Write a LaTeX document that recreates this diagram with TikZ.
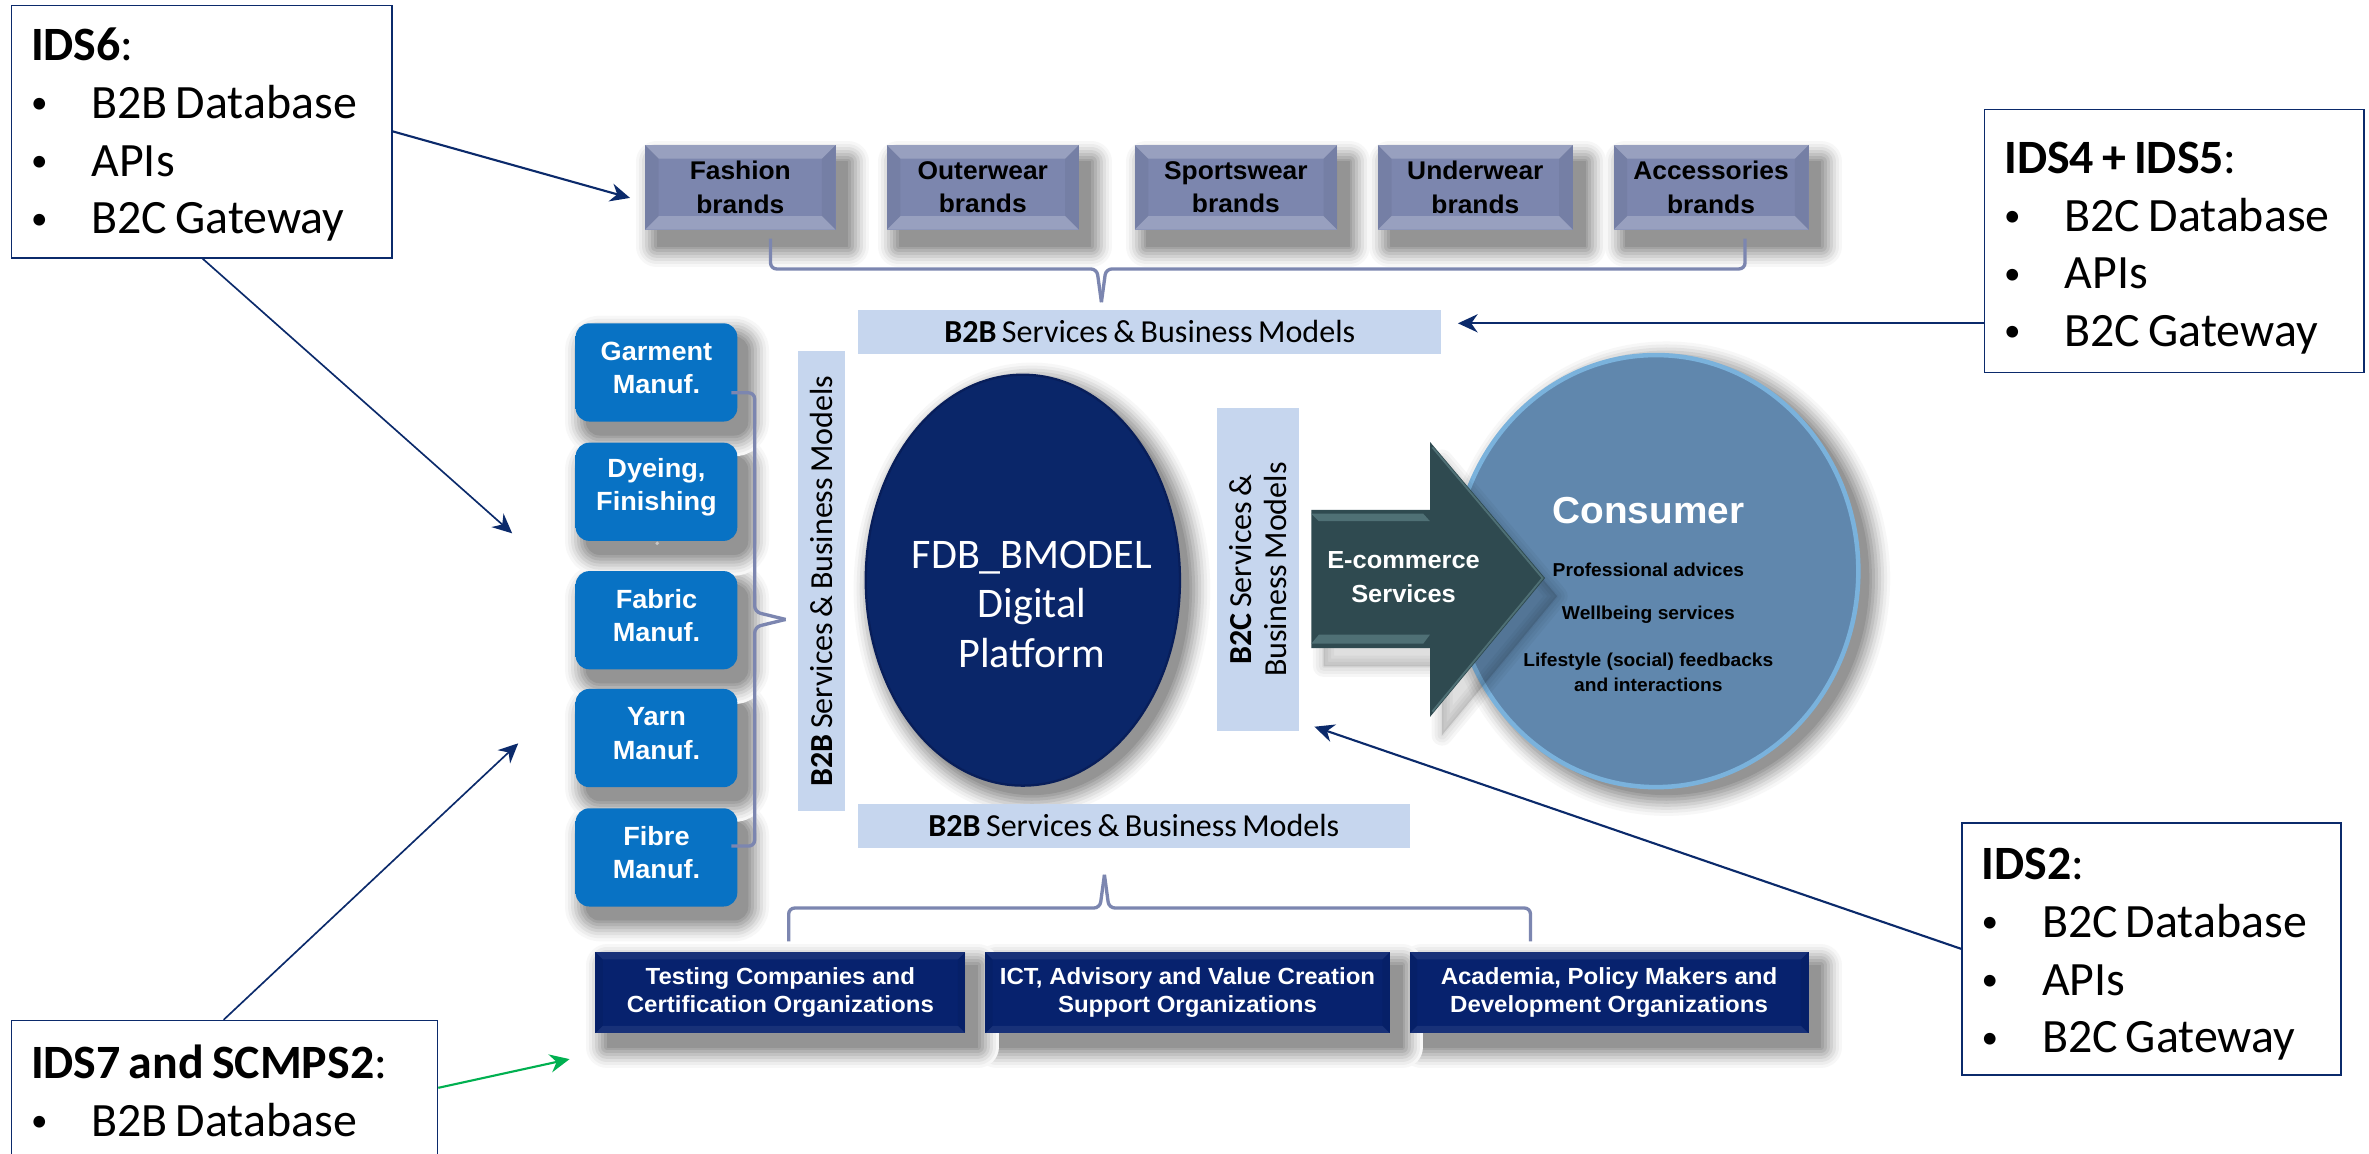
\documentclass[tikz,border=0pt]{standalone}
\usepackage{fontspec}
\setmainfont{Carlito}[WordSpace=0.75]
\newfontfamily\cond[FakeStretch=1.03]{Liberation Sans}
\usetikzlibrary{arrows.meta,calc,shapes.geometric}
\definecolor{navy}{HTML}{0B2A6B}
\definecolor{barblue}{HTML}{C6D6EE}
\definecolor{bracec}{HTML}{7C86B0}
\definecolor{arrowc}{HTML}{2F4A50}
\definecolor{arrowl}{HTML}{4F7075}
\definecolor{brandm}{HTML}{7C86AE}
\definecolor{orgc}{HTML}{07226E}
\definecolor{mfgt}{HTML}{0A90EA}
\definecolor{mfgm}{HTML}{0872C4}
\pgfdeclareverticalshading{mfgsh}{100bp}{color(0bp)=(mfgt); color(14bp)=(mfgm); color(86bp)=(mfgm); color(100bp)=(mfgt)}
\newcommand{\itm}[1]{\makebox[40bp][l]{\raisebox{3bp}{\fontsize{22}{0}\selectfont•}}#1}
\tikzset{
  x=1bp,y=-1bp,
  idsbox/.style={draw=navy,line width=1.1bp,fill=white,anchor=north west,align=flush left,inner xsep=13bp,inner ysep=0pt,
     font=\fontsize{31.8}{38.3}\selectfont},
  conn/.style={draw=navy,line width=1.4bp,-{Stealth[length=13bp,width=12bp]}},
  thinconn/.style={draw=navy,line width=1.1bp,-{Stealth[length=13bp,width=12bp]}},
  greenconn/.style={draw={rgb,255:red,0;green,176;blue,80},line width=1.4bp,-{Stealth[length=13bp,width=12bp]}},
  bar/.style={fill=barblue,inner sep=0pt,font=\fontsize{21.3}{23}\selectfont},
  bracket/.style={draw=bracec,line width=2.2bp,rounded corners=4bp},
  shl/.style n args={4}{preaction={draw=black!#4,fill=black!#4,line width=#3bp,line join=round,path picture={},transform canvas={xshift=#1bp,yshift=-#2bp}}},
  softshadow/.style 2 args={
    shl={#1}{#2}{28}{3},shl={#1}{#2}{24}{7},shl={#1}{#2}{20}{12},shl={#1}{#2}{16}{18},shl={#1}{#2}{12}{24},
    shl={#1}{#2}{8}{30},shl={#1}{#2}{4}{36},shl={#1}{#2}{0.5}{42}},
  shlt/.style n args={3}{preaction={draw=black,draw opacity=.035,fill=black,fill opacity=.03,line width=#3bp,line join=round,transform canvas={xshift=#1bp,yshift=-#2bp}}},
  arrowshadow/.style={shlt={8}{12}{14},shlt={8}{12}{10},shlt={8}{12}{6},shlt={8}{12}{2}},
  bevel/.style 2 args={path picture={
     \fill[white,opacity=#2] (path picture bounding box.north west) -- (path picture bounding box.north east) -- ++(-#1,#1) -- ($(path picture bounding box.north west)+(#1,#1)$) -- cycle;
     \fill[white,opacity=#2] (path picture bounding box.south west) -- (path picture bounding box.south east) -- ++(-#1,-#1) -- ($(path picture bounding box.south west)+(#1,-#1)$) -- cycle;
     \fill[black,opacity=.05] (path picture bounding box.north west) -- (path picture bounding box.south west) -- ++(#1,-#1) -- ($(path picture bounding box.north west)+(#1,#1)$) -- cycle;
     \fill[black,opacity=.05] (path picture bounding box.north east) -- (path picture bounding box.south east) -- ++(-#1,-#1) -- ($(path picture bounding box.north east)+(-#1,#1)$) -- cycle;
  }},
  brandbox/.style={inner sep=0pt,minimum height=56bp,align=center,softshadow={8}{11},
     fill=brandm,bevel={9}{.22},
     font=\cond\bfseries\fontsize{17}{22}\selectfont,text=black},
  orgbox/.style={inner sep=0pt,minimum height=54bp,align=center,fill=orgc,bevel={5}{.07},
     font=\cond\bfseries\fontsize{15.5}{19}\selectfont,text=white},
  mfgbox/.style={inner sep=0pt,minimum width=107bp,minimum height=65bp,rounded corners=9bp,
     shading=mfgsh},
  mfgtext/.style={align=center,inner sep=0pt,yshift=3bp,font=\cond\bfseries\fontsize{17.5}{22}\selectfont,text=white},
  conline/.style={font=\cond\bfseries\fontsize{12.4}{16}\selectfont,text=black,inner sep=0pt,align=center},
}
\begin{document}
\begin{tikzpicture}
\useasboundingbox (0,0) rectangle (1568,763.8);
\clip (0,0) rectangle (1568,763.8);
\fill[white] (0,0) rectangle (1568,763.8);

% consumer
\node[ellipse,minimum width=268bp,minimum height=286bp,inner sep=0pt,draw={rgb,255:red,122;green,178;blue,220},line width=3bp,
   fill={rgb,255:red,96;green,135;blue,173},softshadow={7}{5}] (consumer) at (1096,378) {};
\node[font=\cond\bfseries\fontsize{25}{28}\selectfont,text=white,inner sep=0pt] (constitle) at (1091,338) {Consumer};
\node[conline] (c1) at (1091,377) {Professional advices};
\node[conline] (c2) at (1091,407) {Wellbeing services};
\node[conline] (c3) at (1091,445) {Lifestyle (social) feedbacks\\and interactions};

% big arrow
\path[arrowshadow,fill=arrowc] (868,337.5) -- (946.5,337.5) -- (946.5,292.5) -- (1022.6,382.6) -- (946.5,474.5) -- (946.5,429) -- (868,429) -- cycle;
\fill[arrowl] (868,340) -- (942,340) -- (946.5,345) -- (873,345) -- cycle;
\fill[arrowl] (873,420) -- (946.5,420) -- (942,426) -- (868,426) -- cycle;
\draw[arrowl,line width=1.2bp] (948,296) -- (1021,382.6) -- (948,471);
\node[font=\cond\bfseries\fontsize{16.4}{22}\selectfont,text=white,align=center,inner sep=0pt] (ecom) at (929,382) {E-commerce\\Services};

% platform
\node[ellipse,minimum width=208bp,minimum height=272bp,inner sep=0pt,draw={rgb,255:red,8;green,30;blue,90},line width=1.5bp,
   fill={rgb,255:red,10;green,38;blue,105},softshadow={6}{6},
   label={[text=white,align=center,inner sep=0pt,xshift=6bp,yshift=-16bp,font=\fontsize{28}{33}\selectfont]center:{FDB\_BMODEL\\Digital\\Platform}}] (platform) at (677,384) {};

% service bars
\node[bar,minimum width=386bp,minimum height=29bp] (bartop) at (761,219.5) {\textbf{B2B} Services \& Business Models};
\node[bar,minimum width=365bp,minimum height=29bp] (barbot) at (750.5,546.5) {\textbf{B2B} Services \& Business Models};
\node[bar,minimum width=305bp,minimum height=31bp,rotate=90] (barleft) at (543.5,384.5) {\textbf{B2B} Services \& Business Models};
\node[bar,minimum width=214bp,minimum height=54bp,rotate=90,align=flush center,font=\fontsize{21.3}{23}\selectfont] (barb2c) at (832.5,377) {\textbf{B2C} Services \&\\Business Models};

% brands
\node[brandbox,minimum width=126bp] (b1) at (490,124) {Fashion\\brands};
\node[brandbox,minimum width=127bp] (b2) at (650.5,124) {Outerwear\\brands};
\node[brandbox,minimum width=134bp] (b3) at (818,124) {Sportswear\\brands};
\node[brandbox,minimum width=129bp] (b4) at (976.5,124) {Underwear\\brands};
\node[brandbox,minimum width=129bp] (b5) at (1132.5,124) {Accessories\\brands};

% shadows of the stacked boxes, far ones first
\foreach \cy in {567.5,488.5,410.5,325.5,246.5}
  \path[softshadow={7}{9},rounded corners=9bp] (381,{\cy-32.5}) rectangle (488,{\cy+32.5});
\foreach \lft/\rgt in {933/1197,652/920,394/639}
  \path[softshadow={8}{9}] (\lft,630) rectangle (\rgt,684);

% manufacturers
\coordinate (brLT) at (484,260);
\coordinate (brLB) at (484,560);
\coordinate (brLM) at (520,410);
\node[mfgbox,label={[mfgtext]center:{Garment\\Manuf.}}] (m1) at (434.5,246.5) {};
\node[mfgbox,label={[mfgtext]center:{Dyeing,\\Finishing}}] (m2) at (434.5,325.5) {};
\node[mfgbox,label={[mfgtext]center:{Fabric\\Manuf.}}] (m3) at (434.5,410.5) {};
\node[mfgbox,label={[mfgtext]center:{Yarn\\Manuf.}}] (m4) at (434.5,488.5) {};
\node[mfgbox,label={[mfgtext]center:{Fibre\\Manuf.}}] (m5) at (434.5,567.5) {};
\fill[gray!45] (435,359.6) circle (1.3);

% organisations
\node[orgbox,minimum width=245bp] (o1) at (516.5,657) {Testing Companies and\\Certification Organizations};
\node[orgbox,minimum width=268bp] (o2) at (786,657) {ICT, Advisory and Value Creation\\Support Organizations};
\node[orgbox,minimum width=264bp] (o3) at (1065,657) {Academia, Policy Makers and\\Development Organizations};

% brackets
\coordinate (brTopL) at (510,158);
\coordinate (brTopM) at (729,200);
\coordinate (brTopR) at (1155,158);
\draw[bracket] (brTopL) |- (726,178) -- (brTopM);
\draw[bracket] (brTopR) |- (732,178) -- (brTopM);
\coordinate (brBotL) at (522,623);
\coordinate (brBotM) at (731,579);
\coordinate (brBotR) at (1013,623);
\draw[bracket] (brBotL) |- (728,601) -- (brBotM);
\draw[bracket] (brBotR) |- (734,601) -- (brBotM);
\draw[bracket] (brLT) -| (499.5,405) -- (brLM);
\draw[bracket] (brLB) -| (499.5,415) -- (brLM);

% callouts
\node[idsbox,text width=226bp,minimum height=167bp] (ids6) at (7,3) {\rule{0pt}{26bp}\textbf{IDS6}:\\\itm{B2B Database}\\\itm{APIs}\\\itm{B2C Gateway}};
\node[idsbox,text width=225bp,minimum height=174bp] (ids45) at (1313,72) {\rule{0pt}{30bp}\textbf{IDS4 + IDS5}:\\\itm{B2C Database}\\\itm{APIs}\\\itm{B2C Gateway}};
\node[idsbox,text width=225bp,minimum height=167bp] (ids2) at (1298,544) {\rule{0pt}{28bp}\textbf{IDS2}:\\\itm{B2C Database}\\\itm{APIs}\\\itm{B2C Gateway}};
\node[idsbox,text width=256bp,minimum height=93bp] (ids7) at (7,675) {\textbf{IDS7 and SCMPS2}:\\\itm{B2B Database}};

% connectors
\coordinate (e1) at (417,131);
\coordinate (e2) at (339,353);
\coordinate (e3) at (965,214);
\coordinate (e4) at (870,481);
\coordinate (e5) at (343,492);
\coordinate (e6) at (377,701);
\draw[conn] (ids6.east |- 0,87) -- (e1);
\draw[thinconn] (ids6.south -| 134,0) -- (e2);
\draw[conn] (ids45.west |- e3) -- (e3);
\draw[conn] (ids2.west |- 0,628) -- (e4);
\draw[thinconn] (ids7.north -| 148,0) -- (e5);
\draw[greenconn] (ids7.east |- 0,720) -- (e6);
\end{tikzpicture}
\end{document}
